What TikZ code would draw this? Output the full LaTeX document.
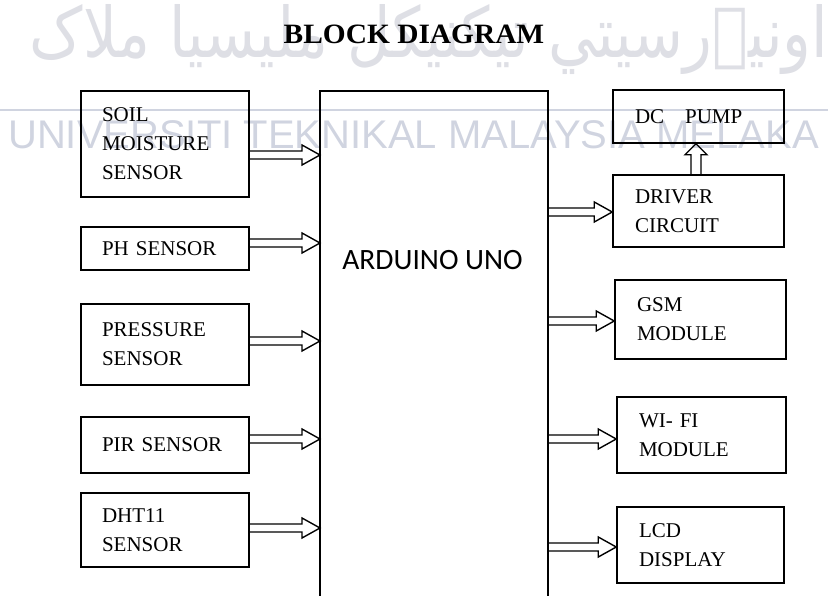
\documentclass[tikz,border=0pt]{standalone}
\usepackage{fontspec}
\usepackage{graphicx}
\setmainfont{Liberation Serif}
\newfontfamily\ardfont{Carlito}
\newfontfamily\wmfont{Liberation Sans}
\newfontfamily\jawifont[Script=Arabic]{DejaVu Sans}
\TeXXeTstate=1
\usetikzlibrary{calc}
\definecolor{wmgray}{RGB}{208,212,224}
\definecolor{jawigray}{RGB}{222,223,229}
\begin{document}
\begin{tikzpicture}[x=1pt,y=-1pt,
  blkbase/.style={draw, line width=1.5pt, inner ysep=0pt, align=left,
    font=\fontsize{21}{29}\selectfont},
  lblk/.style={blkbase, minimum width=168pt, text width=126pt, inner xsep=21pt},
  rblk/.style={blkbase, inner xsep=22pt},
  hollowR/.style={line width=1.4pt, to path={let \p1=(\tikztostart), \p2=(\tikztotarget) in
    (\x1,\y1+4pt) -- (\x2-18pt,\y1+4pt) -- (\x2-18pt,\y1+10pt) -- (\x2,\y1)
    -- (\x2-18pt,\y1-10pt) -- (\x2-18pt,\y1-4pt) -- (\x1,\y1-4pt)}},
  hollowU/.style={line width=1.4pt, to path={let \p1=(\tikztostart), \p2=(\tikztotarget) in
    (\x1-5pt,\y1) -- (\x1-5pt,\y2-11pt) -- (\x1-11pt,\y2-11pt) -- (\x1,\y2)
    -- (\x1+11pt,\y2-11pt) -- (\x1+5pt,\y2-11pt) -- (\x1+5pt,\y1)}}
]
\useasboundingbox (0,0) rectangle (828,596);

% watermark
\node[text=jawigray, inner sep=0pt] (jawi) at (429,40)
  {\resizebox*{798pt}{70pt}{\jawifont\beginR اونيۏرسيتي تيکنيکل مليسيا ملاک\endR}};
\draw[wmgray, line width=2pt] (0,110) -- (828,110);
\node[font=\wmfont\fontsize{40}{40}\selectfont, text=wmgray, anchor=base west, inner sep=0pt]
  (wm) at (8,149) {UNIVERSITI TEKNIKAL MALAYSIA MELAKA};

% title
\node[font=\bfseries\fontsize{28}{30}\selectfont, xscale=1.05] (title) at (414,34) {BLOCK DIAGRAM};

% arduino
\node[minimum width=228pt, minimum height=505pt, inner sep=0pt, outer sep=0pt] (ard) at (434,343.5) {};
\draw[line width=1.5pt] (ard.south west) -- (ard.north west) -- (ard.north east) -- (ard.south east);
\node[font=\ardfont\fontsize{29.5}{30}\selectfont] (ardlbl) at (432.5,260) {ARDUINO UNO};

% left blocks
\node[lblk, minimum height=106pt] (soil) at (165,144) {SOIL\\MOISTURE\\SENSOR};
\node[lblk, minimum height=43pt] (ph) at (165,248.5) {PH SENSOR};
\node[lblk, minimum height=81pt] (press) at (165,344.5) {PRESSURE\\SENSOR};
\node[lblk, minimum height=56pt] (pir) at (165,445) {PIR SENSOR};
\node[lblk, minimum height=74pt] (dht) at (165,530) {DHT11\\SENSOR};

% right blocks
\node[rblk, minimum width=171pt, text width=127pt, minimum height=53pt] (pump) at (698.5,116.5) {DC~~~PUMP};
\node[rblk, minimum width=171pt, text width=127pt, minimum height=72pt] (driver) at (698.5,211) {DRIVER\\CIRCUIT};
\node[rblk, minimum width=171pt, text width=127pt, minimum height=79pt] (gsm) at (700.5,319.5) {GSM\\MODULE};
\node[rblk, minimum width=169pt, text width=125pt, minimum height=76pt] (wifi) at (701.5,435) {WI- FI\\MODULE};
\node[rblk, minimum width=167pt, text width=123pt, minimum height=76pt] (lcd) at (700.5,545) {LCD\\DISPLAY};

% arrows in
\draw[hollowR] (soil.east |- 0,155) to (ard.west);
\draw[hollowR] (ph.east |- 0,243) to (ard.west);
\draw[hollowR] (press.east |- 0,341) to (ard.west);
\draw[hollowR] (pir.east |- 0,439) to (ard.west);
\draw[hollowR] (dht.east |- 0,528) to (ard.west);

% arrows out
\draw[hollowR] (ard.east |- 0,212) to (driver.west);
\draw[hollowR] (ard.east |- 0,321) to (gsm.west);
\draw[hollowR] (ard.east |- 0,439) to (wifi.west);
\draw[hollowR] (ard.east |- 0,547) to (lcd.west);
\draw[hollowU] (driver.north -| 696,0) to (pump.south);
\end{tikzpicture}
\end{document}
